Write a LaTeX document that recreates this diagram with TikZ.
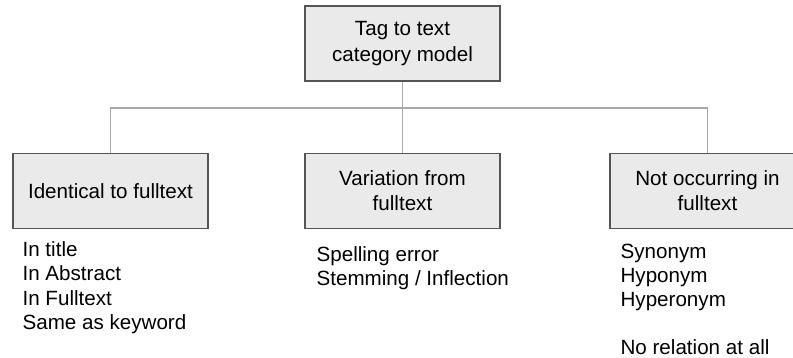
\documentclass[tikz,border=0pt]{standalone}
\usepackage{fontspec}
\setmainfont{Liberation Sans}
\usepackage{xcolor}
\usepackage{tikz}
\usetikzlibrary{positioning}
\definecolor{BoxFill}{HTML}{EAEAEA}
\definecolor{BoxEdge}{HTML}{555555}
\definecolor{LinkGray}{HTML}{A8A8A8}
\tikzset{
  catbox/.style={draw=BoxEdge,line width=0.8pt,fill=BoxFill,align=center,minimum width=97.5pt,minimum height=37.5pt,inner sep=2pt,font=\fontsize{10.3}{12.6}\selectfont},
  linkline/.style={draw=LinkGray,line width=0.8pt},
  itemlist/.style={align=left,inner sep=0pt,font=\fontsize{10.3}{12.1}\selectfont}
}
\begin{document}
\begin{tikzpicture}[x=0.5pt,y=0.5pt]
\useasboundingbox (0,0) rectangle (793,358);
\clip (0,0) rectangle (793,358);
\node[catbox] (tag) at (402.5,314.5) {Tag to text\\category model};
\node[catbox] (ident) at (110.5,167) {Identical to fulltext};
\node[catbox] (varia) at (402.5,167) {Variation from\\fulltext};
\node[catbox] (notocc) at (707.5,167) {Not occurring in\\fulltext};
\coordinate (bus) at (402.5,250);
% tree links
\draw[linkline] (tag.south) -- (varia.north);
\draw[linkline] (ident.north) |- (bus) -| (notocc.north);
% item lists under each category
\node[itemlist,below right=6pt and 5pt of ident.south west] (identlist) {In title\\In Abstract\\In Fulltext\\Same as keyword};
\node[itemlist,below right=8.5pt and 6pt of varia.south west] (varialist) {Spelling error\\Stemming / Inflection};
\node[itemlist,below right=7pt and 5.5pt of notocc.south west] (notocclist) {Synonym\\Hyponym\\Hyperonym\\[12.1pt]No relation at all};
\end{tikzpicture}
\end{document}
